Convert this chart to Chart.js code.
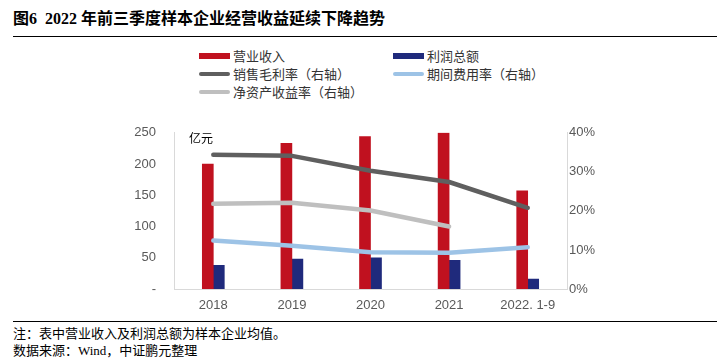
<!DOCTYPE html>
<html>
<head>
<meta charset="utf-8">
<script src="https://cdn.jsdelivr.net/npm/chart.js@4.4.0/dist/chart.umd.min.js"></script>
<style>
  body { margin: 0; background: #fff; }
  #wrap { position: relative; width: 721px; height: 362px; overflow: hidden; font-family: "Noto Sans CJK SC", sans-serif; }
  #title { position: absolute; left: 13px; top: 5px; font-size: 16px; font-weight: bold; font-family: "Liberation Serif", "Noto Sans CJK SC", serif; color: #000; white-space: nowrap; }
  .rule { position: absolute; left: 13px; width: 704px; height: 0; border-top: 1.5px solid #000; }
  #legend { position: absolute; left: 0; top: 0; }
  .item { position: absolute; font-size: 13px; color: #333; white-space: nowrap; line-height: 18px; }
  .mark { position: absolute; }
  #unit { position: absolute; left: 189px; top: 129px; font-size: 12px; color: #000; }
  .note { position: absolute; left: 13px; font-size: 13px; color: #000; font-family: "Liberation Serif", "Noto Sans CJK SC", serif; white-space: nowrap; }
  #chartBox { position: absolute; left: 120px; top: 107px; width: 480px; height: 208px; }
</style>
</head>
<body>
<div id="wrap">
  <div id="title">图6&nbsp; 2022 年前三季度样本企业经营收益延续下降趋势</div>
  <div class="rule" style="top:36px"></div>
  <div id="legend"></div>
  <div id="chartBox"><canvas id="grafico"></canvas></div>
  <div id="unit">亿元</div>
  <div class="rule" style="top:321px"></div>
  <div class="note" style="top:323px">注：表中营业收入及利润总额为样本企业均值。</div>
  <div class="note" style="top:340px">数据来源：Wind，中证鹏元整理</div>
</div>
<script>
const anos = ['2018', '2019', '2020', '2021', '2022. 1-9'];

const receita = [200, 233, 244, 250, 157];
const lucro = [38, 48, 50, 46, 16];
const margemBruta = [34.4, 34.1, 30.3, 27.4, 20.8];
const taxaDespesa = [12.4, 11.1, 9.4, 9.3, 10.7];
const roe = [21.8, 22.1, 20.1, 16.0, null];

const ticksEsq = [0, 50, 100, 150, 200, 250];
const ticksDir = [0, 10, 20, 30, 40];

const vermelho = '#c0111f';
const azul = '#1f2a7c';
const cinzaEscuro = '#5f5f5f';
const azulClaro = '#9dc3e6';
const cinzaClaro = '#bfbfbf';

// legenda feita a mao, em duas colunas
const legendas = [
    { nome: '营业收入', cor: vermelho, tipo: 'bar', col: 0, lin: 0 },
    { nome: '利润总额', cor: azul, tipo: 'bar', col: 1, lin: 0 },
    { nome: '销售毛利率（右轴）', cor: cinzaEscuro, tipo: 'line', col: 0, lin: 1 },
    { nome: '期间费用率（右轴）', cor: azulClaro, tipo: 'line', col: 1, lin: 1 },
    { nome: '净资产收益率（右轴）', cor: cinzaClaro, tipo: 'line', col: 0, lin: 2 },
];
const legendaBox = document.getElementById('legend');
legendas.forEach(l => {
    const x = l.col === 0 ? 199 : 393;
    const y = 56 + l.lin * 18;
    const m = document.createElement('div');
    m.className = 'mark';
    const h = l.tipo === 'bar' ? 6 : 4;
    m.style.left = x + 'px';
    m.style.top = (y - h / 2) + 'px';
    m.style.width = '31px';
    m.style.height = h + 'px';
    m.style.background = l.cor;
    if (l.tipo === 'line') m.style.borderRadius = '2px';
    legendaBox.appendChild(m);
    const t = document.createElement('div');
    t.className = 'item';
    t.textContent = l.nome;
    t.style.left = (x + 34) + 'px';
    t.style.top = (y - 9) + 'px';
    legendaBox.appendChild(t);
});

const linha = (label, data, cor) => ({
    type: 'line',
    label: label,
    data: data,
    yAxisID: 'y1',
    borderColor: cor,
    backgroundColor: cor,
    borderWidth: 4.5,
    borderCapStyle: 'round',
    borderJoinStyle: 'round',
    pointRadius: 0,
    tension: 0,
    spanGaps: false,
    order: 0
});

const data = {
    labels: anos,
    datasets: [
        linha('销售毛利率（右轴）', margemBruta, cinzaEscuro),
        linha('净资产收益率（右轴）', roe, cinzaClaro),
        linha('期间费用率（右轴）', taxaDespesa, azulClaro),
        { type: 'bar', label: '营业收入', data: receita, backgroundColor: vermelho, barThickness: 11, yAxisID: 'y', order: 1 },
        { type: 'bar', label: '利润总额', data: lucro, backgroundColor: azul, barThickness: 11, yAxisID: 'y', order: 1 },
    ]
};

const fonteTick = { family: '"Liberation Sans", Arial, sans-serif', size: 13 };

const config = {
    data: data,
    options: {
        responsive: false,
        animation: false,
        layout: { padding: 0 },
        plugins: { legend: { display: false }, tooltip: { enabled: false } },
        scales: {
            x: {
                grid: { display: false, drawTicks: false },
                border: { display: true, color: '#d9d9d9', width: 1 },
                ticks: { color: '#595959', font: fonteTick, padding: 9, maxRotation: 0, autoSkip: false },
                afterFit: s => { s.height = 26; }
            },
            y: {
                position: 'left',
                min: 0, max: 250,
                afterBuildTicks: s => { s.ticks = ticksEsq.map(v => ({ value: v })); },
                grid: { display: false, drawTicks: false },
                border: { display: true, color: '#d9d9d9', width: 1 },
                ticks: { color: '#595959', font: fonteTick, padding: 18, callback: v => v === 0 ? '-' : v },
                afterFit: s => { s.width = 54; }
            },
            y1: {
                position: 'right',
                min: 0, max: 40,
                afterBuildTicks: s => { s.ticks = ticksDir.map(v => ({ value: v })); },
                grid: { display: false, drawTicks: false },
                border: { display: true, color: '#d9d9d9', width: 1 },
                ticks: { color: '#595959', font: fonteTick, padding: 2, callback: v => v + '%' },
                afterFit: s => { s.width = 33; }
            }
        }
    }
};

const canvas = document.getElementById('grafico');
canvas.width = 480;
canvas.height = 208;
const grafico = new Chart(canvas, config);
</script>
</body>
</html>
